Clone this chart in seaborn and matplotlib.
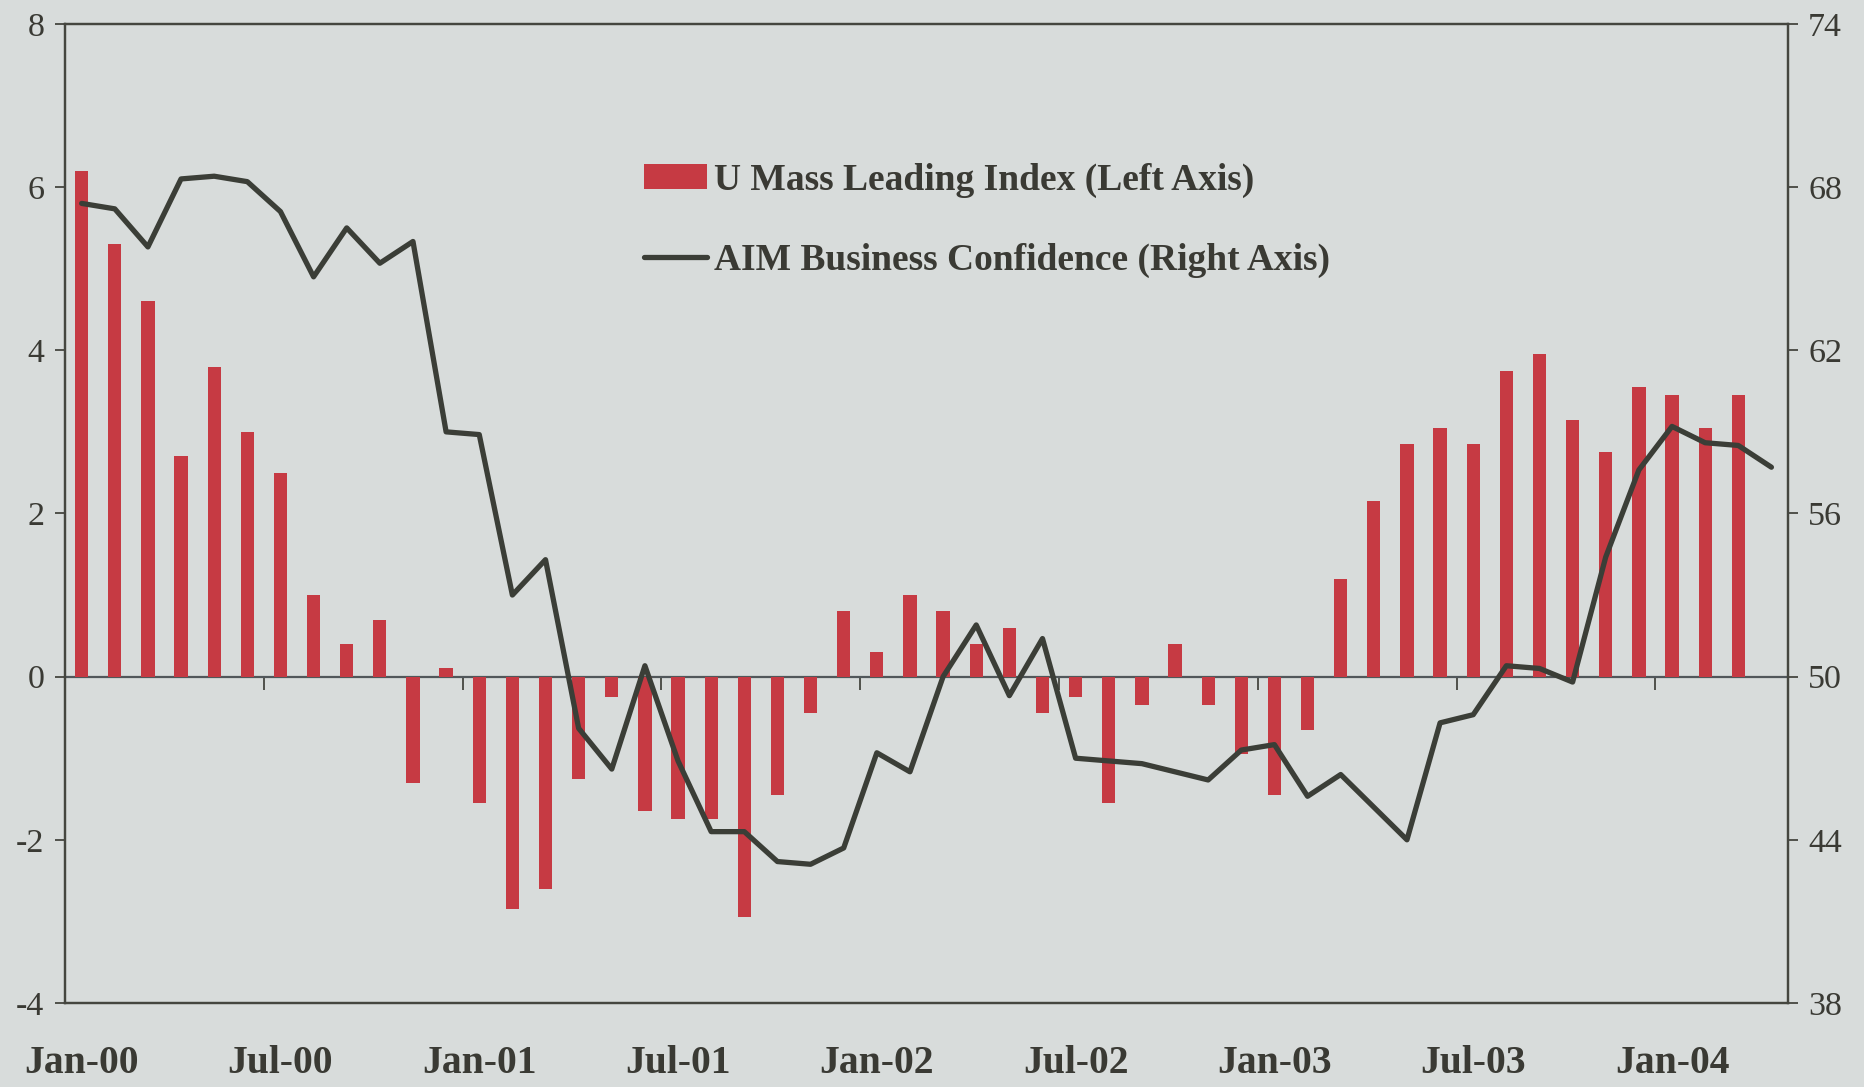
import numpy as np
import pandas as pd
import matplotlib
matplotlib.use("Agg")
import matplotlib.pyplot as plt
import seaborn as sns

# monthly categories Jan-00 .. Apr-04
months = pd.date_range("2000-01-01", periods=52, freq="MS").strftime("%b-%y").tolist()

# U Mass Leading Index (left axis), no value for Apr-04
umass_index = [6.2, 5.3, 4.6, 2.7, 3.8, 3.0, 2.5, 1.0, 0.4, 0.7, -1.3, 0.1,
               -1.55, -2.85, -2.6, -1.25, -0.25, -1.65, -1.75, -1.75, -2.95, -1.45, -0.45, 0.8,
               0.3, 1.0, 0.8, 0.4, 0.6, -0.45, -0.25, -1.55, -0.35, 0.4, -0.35, -0.95,
               -1.45, -0.65, 1.2, 2.15, 2.85, 3.05, 2.85, 3.75, 3.95, 3.15, 2.75, 3.55,
               3.45, 3.05, 3.45, np.nan]

# AIM Business Confidence (right axis)
aim_confidence = [67.4, 67.2, 65.8, 68.3, 68.4, 68.2, 67.1, 64.7, 66.5, 65.2, 66.0, 59.0,
                  58.9, 53.0, 54.3, 48.1, 46.6, 50.4, 46.9, 44.3, 44.3, 43.2, 43.1, 43.7,
                  47.2, 46.5, 50.0, 51.9, 49.3, 51.4, 47.0, 46.9, 46.8, 46.5, 46.2, 47.3,
                  47.5, 45.6, 46.4, 45.2, 44.0, 48.3, 48.6, 50.4, 50.3, 49.8, 54.4, 57.6,
                  59.2, 58.6, 58.5, 57.7]

label_every = 6
left_ticks = [-4, -2, 0, 2, 4, 6, 8]
right_ticks = [38, 44, 50, 56, 62, 68, 74]

bg = "#d8dcdb"
bar_color = "#c63a43"
line_color = "#3b3e37"
text_color = "#3a3a34"
spine_color = "#45463f"

sns.set_style("ticks")
plt.rcParams["font.family"] = ["Liberation Serif", "DejaVu Serif"]
plt.rcParams["text.color"] = text_color
plt.rcParams["xtick.color"] = spine_color
plt.rcParams["ytick.color"] = spine_color
plt.rcParams["xtick.labelcolor"] = text_color
plt.rcParams["ytick.labelcolor"] = text_color

df = pd.DataFrame({"month": months, "umass": umass_index, "aim": aim_confidence})
df["pos"] = np.arange(len(df))

fig, ax = plt.subplots(figsize=(18.65, 10.87), dpi=100)
fig.patch.set_facecolor(bg)
ax.set_facecolor(bg)
fig.subplots_adjust(left=0.0349, right=0.9587, bottom=0.0773, top=0.978)

sns.barplot(data=df, x="month", y="umass", order=months, color=bar_color,
            saturation=1, width=0.4, linewidth=0, errorbar=None, ax=ax,
            label="U Mass Leading Index (Left Axis)")
if ax.get_legend() is not None:
    ax.get_legend().remove()

ax2 = ax.twinx()
sns.lineplot(data=df, x="pos", y="aim", color=line_color, linewidth=3.8,
             ax=ax2, label="AIM Business Confidence (Right Axis)")

ax.set_xlim(-0.5, len(months) - 0.5)
ax.set_ylim(-4, 8)
ax2.set_ylim(38, 74)
ax.set_yticks(left_ticks)
ax2.set_yticks(right_ticks)
ax.set_yticklabels([str(t) for t in left_ticks])
ax2.set_yticklabels([str(t) for t in right_ticks])

# category labels every six months, placed under the frame
label_pos = list(range(0, len(months), label_every))
ax.set_xticks(label_pos)
ax.set_xticklabels([months[i] for i in label_pos], fontsize=28.5, fontweight="bold")
ax.tick_params(axis="x", length=0, pad=30)
ax.set_xlabel("")
ax.set_ylabel("")
ax2.set_xlabel("")
ax2.set_ylabel("")

ax.tick_params(axis="y", labelsize=24.5, length=7, width=1.3, pad=8, direction="out")
ax2.tick_params(axis="y", labelsize=24.5, length=7, width=1.3, pad=7.5, direction="out")

for a in (ax, ax2):
    for s in a.spines.values():
        s.set_color(spine_color)
        s.set_linewidth(1.6)
ax2.patch.set_visible(False)

# category axis crossing at zero, with tick marks between categories
zero_frac = (0 - left_ticks[0]) / (left_ticks[-1] - left_ticks[0])
zaxis = ax.secondary_xaxis(zero_frac)
zaxis.set_xticks(np.arange(label_every - 0.5, len(months) - 1, label_every))
zaxis.tick_params(axis="x", length=9, width=1.3, direction="out", labelbottom=False,
                  color=spine_color)
zaxis.spines["bottom"].set_color("#51575a")
zaxis.spines["bottom"].set_linewidth(1.6)

h1, l1 = ax.get_legend_handles_labels()
h2, l2 = ax2.get_legend_handles_labels()
leg = ax2.legend(h1 + h2, l1 + l2, loc="upper left", bbox_to_anchor=(0.336, 0.858),
                 frameon=False, borderpad=0, borderaxespad=0,
                 prop={"size": 27, "weight": "bold"}, handlelength=1.69,
                 handleheight=0.64, handletextpad=0.18, labelspacing=1.2)

plt.savefig("out.png", dpi=100, facecolor=bg)
